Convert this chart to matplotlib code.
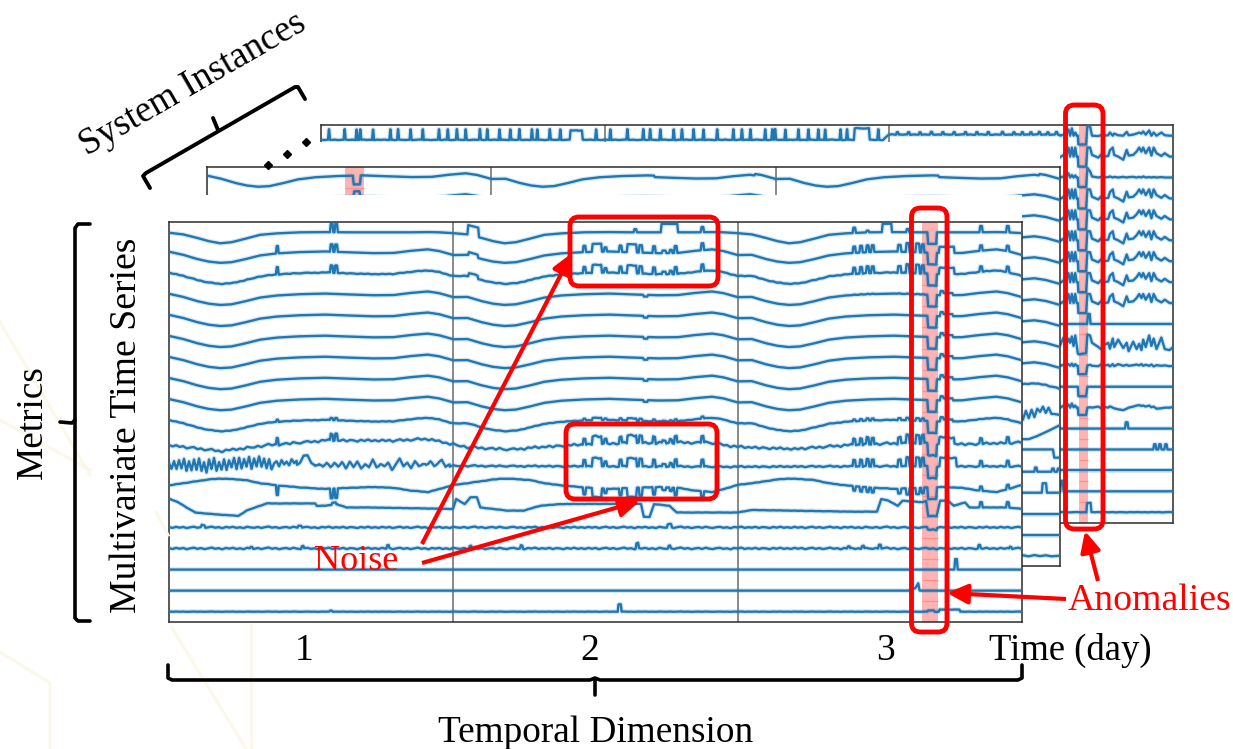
import numpy as np
import matplotlib
matplotlib.use("Agg")
import matplotlib.pyplot as plt
from matplotlib.patches import FancyBboxPatch, FancyArrowPatch, Rectangle

W, H = 1233, 749
BLUE = "#1f77b4"
RED = "#ff0000"
plt.rcParams["font.family"] = ["Liberation Serif", "DejaVu Serif"]

# ---------- one-day envelope of the metrics (row heights above the nominal level)
DAY_T = [0, .05, .10, .14, .18, .22, .27, .32, .38, .46, .55, .63, .72, .79, .85, .91, .95, 1.0]
DAY_V = [.10, -.05, -.25, -.37, -.43, -.40, -.25, -.08, .02, .08, .11, .07, .03, .04, .14, .21, .13, -.06]
TOP_V = [.0, -.08, -.25, -.40, -.50, -.45, -.28, -.10, -.03, .02, .03, .02, .02, .02, .02, .03, .02, -.02]
INV_V = [.0, .10, .20, .28, .32, .30, .25, .10, .0, -.10, -.17, -.12, -.08, -.12, -.25, -.32, -.18, .02]

# ---------- front panel events: (time, height, width)
SPIKE_DAY1 = [(.381, .35, .004), (.572, .35, .006), (.588, .35, .006)]
BURST_DAY2 = [(1.461, .30, .006), (1.505, .38, .030), (1.535, .20, .006), (1.588, .30, .006),
              (1.628, .38, .030), (1.659, .35, .008), (1.706, .32, .006), (1.741, .12, .010),
              (1.765, .15, .006), (1.782, .33, .006), (1.876, .33, .006)]
BURST_DAY3 = [(2.410, .30, .006), (2.434, .32, .006), (2.457, .32, .006), (2.475, .32, .006),
              (2.569, .32, .008), (2.598, .42, .008), (2.633, .42, .010), (2.651, .38, .006)]
LATE_SPIKES = [(2.856, .25, .006), (2.950, .25, .006)]
NOTCH = [(2.684, -.55, .028)]
HUMP_BIG = [(2.735, .30, .050)]
HUMP_SMALL = [(2.718, .20, .008), (2.740, .10, .030)]
STEP_DAY2 = [(1.676, -.08, .012)]
TOP_EVENTS = [(.572, .40, .006), (.588, .40, .006), (1.07, .45, .035), (1.64, .15, .006),
              (1.76, .40, .055), (1.876, .25, .006), (2.41, .25, .006), (2.457, .08, .006),
              (2.525, .40, .030), (2.598, .15, .006), (2.856, .30, .006), (2.950, .30, .006)]

# ---------- front panel: rows with their own level history
ROW10_T = [0, .18, .35, .55, .79, .91, 1.05, 1.2, 1.4, 1.6, 1.9, 2.0, 2.2, 2.4, 2.6, 2.8, 3.0]
ROW10_V = [-.10, -.38, -.10, .13, .12, .20, -.20, -.30, -.10, .0, .03, -.18, -.28, -.08, .0, -.05, .03]
ROW11_T = [0, .5, 1.0, 1.5, 2.0, 2.4, 2.7, 3.0]
ROW11_V = [.0, -.02, -.08, -.10, -.12, -.10, -.10, -.10]
ROW13_T = [0, .004, .033, .062, .092, .156, .244, .273, .303, .344, .514, .52, .549, .59, .625, .696, .999,
           1.01, 1.04, 1.06, 1.083, 1.095, 1.19, 1.247, 1.306, 1.376, 1.50, 1.66, 1.67, 1.69, 1.706, 1.76,
           1.786, 1.87, 2.0, 2.05, 2.40, 2.49, 2.505, 2.53, 2.563, 2.58, 2.65, 2.663, 2.67, 2.70, 2.712,
           2.74, 2.76, 2.80, 2.815, 2.95, 3.0]
ROW13_V = [.35, .35, .19, -.05, -.29, -.37, -.45, -.2, -.05, .14, .14, .03, .03, .1, -.05, -.05, -.12,
           .35, .11, .43, .43, -.05, -.2, -.2, .03, .11, .12, .12, -.5, -.5, .11, .03,
           -.29, -.29, -.29, -.17, -.25, -.25, .35, .27, .03, .27, .2, .25, -.45, -.45, .27,
           .27, .03, .19, -.05, -.05, -.12]
ROW15_SPIKES = [(.29, .08, .005), (.47, .12, .005), (.77, .15, .005), (1.06, .12, .005), (1.24, .15, .005),
                (1.647, .25, .006), (1.76, .12, .005), (2.39, .1, .005), (2.44, .14, .006), (2.50, .2, .006),
                (2.85, .15, .005), (2.96, .1, .005)]
ROW14_SPIKES = [(.12, .12, .01), (.46, .1, .01), (1.76, .15, .012)]
ROW16_SPIKES = [(2.768, .50, .006)]
ROW17_T = [0, 2.60, 2.625, 2.635, 2.64, 3.0]
ROW17_V = [0, 0, .12, .35, .0, .0]
ROW18_SPIKES = [(.57, .05, .006), (1.585, .35, .008), (2.745, .10, .07), (2.68, .06, .02)]

# ---------- typed fine noise
NOISE_A = [.03, -.04, .06, -.02, .05, -.06, .02, .07, -.03, .04, -.05, .01, .08, -.02, .03, -.07, .05, -.01, .06, -.04,
           .02, -.06, .07, .0, -.03, .05, -.05, .03, .09, -.02, .04, -.06, .01, .05, -.04, .07, -.01, -.05, .03, .06,
           -.03, .02, -.07, .05, .0, .08, -.04, .03, -.02, .06, -.05, .04, .01, -.06, .05, -.02, .07, -.03]
HEAVY_V = [.05, -.2, .15, -.25, .2, -.2, .25, -.28, .15, -.3, .2, -.25, .28, -.32, .12, -.38, .22, -.25, .3, -.3,
           .1, -.22, .25, -.28, .2, -.15, .3, -.2, .32, -.18, .28, -.12, .35, -.2, .3, -.1, .38, -.08, .28, -.2,
           .22, -.22, .05, .15, -.05, .22, .0, .12, -.02, .25, .05, .18]
HEAVY_STEP = .0088
MEDIUM_V = [.1, .42, .42, .1, -.05, .05, -.1, .08, -.12, .1, -.08, .12, -.15, .15, -.1, .2, -.18, .05, -.12, .28,
            -.1, .05, -.05, .12, -.2, .05, .3, -.02, .12, -.1, .2, -.05, .08, .05, .22, -.02, .1, .3, -.05, .1]
MEDIUM_STEP = .0135

# ---------- right strip of the back panel
STRIP_T = [2.603, 2.615, 2.621, 2.632, 2.638, 2.644, 2.65, 2.656, 2.661, 2.665, 2.667, 2.694, 2.699, 2.708, 2.715,
           2.737, 2.746, 2.757, 2.772, 2.778, 2.788, 2.793, 2.807, 2.825, 2.837, 2.844, 2.86, 2.872, 2.881, 2.889,
           2.895, 2.904, 2.916, 2.924, 2.932, 2.942, 2.959, 2.971, 2.988, 3.0]
STRIP_V = [-.03, .08, -.03, .43, .0, .43, .0, .43, .0, .0, -.48, -.48, .43, .43, .08, -.05, .08, .0, .03, .3, .43, .08,
           .0, -.15, .32, .05, .08, .24, .43, .24, .43, .16, .43, .05, .43, .16, .03, .16, .0, .0]
STRIP_HEAVY_V = [.0, .35, -.1, .3, .1, .4, -.05, .45, .0, -.4, -.45, -.4, .5, .45, .1, -.1, -.2, -.02, .1, -.18,
                 .3, -.1, .25, -.15, .1, -.3, .15, -.2, .05, -.25, .25, -.1, .45, -.05, .3, -.2, .35, -.2, -.25, -.1]
STRIP_SMALL_V = [.0, .05, -.03, .08, .0, .1, -.02, .08, .0, .0, -.4, -.4, .02, .05, .0, -.02, .06, .0, .05, -.03, .08,
                 -.02, .08, .0, .05, .0, .03, .06, .02, .08, .0, .05, .0, .06, -.03, .03, .0, .02, -.02, .0]
STRIP_FLAT_NOTCH_V = [.0] * 10 + [-.45, -.45, .0, .0] + [.0] * 26
STRIP_LOW_NOTCH_V = [.0, .1, -.02, .15, .0, .2, .02, .1, .0, .0, -.35, -.35, .0, .02, .0, .05, -.02, .04, .0, .06, .0,
                     -.03, -.08, -.12, -.05, .0, .05, .1, .12, .08, .1, .05, .1, .02, .05, -.05, -.03, .0, .0, .03]
STRIP_TOP_V = [.0, .05, .0, .3, .0, .35, .0, .15, .0, .0, -.42, -.42, .45, .45, .0, -.02, .02, .0, .02, .15, .0, .1, .02,
               .0, .18, .02, .05, .1, .15, .1, .2, .05, .25, .0, .15, .0, .15, .02, .0, .0]
STRIP_QUIET_V = [.0, .05, -.02, .2, .0, .12, .0, .1, .0, .0, -.45, -.45, .45, .3, .05, .0, .02, .0, .02, .05, .0, .03,
                 .0, .03, .0, .02, .03, .0, .03, .0, .05, .0, .02, .0, .02, .0, .02, .0, .0, .0]
STRIP_ROW9_EVENTS = [(2.704, .48, .006)]
STRIP_ROW14_EVENTS = [(2.837, .30, .006)]
STRIP_ROW15_EVENTS = [(2.936, .25, .005), (2.954, .25, .005), (2.975, .25, .005)]
STRIP_ROW17_EVENTS = [(2.609, .50, .006)]
STRIP_ROW18_EVENTS = [(2.704, .45, .012)]
BACK_ROW0_DAY1 = [.03, .085, .127, .14, .185, .246, .273, .317, .36, .417, .448, .48, .511, .561, .587, .63, .668, .7,
                  .744, .763, .807, .844, .97]
BACK_ROW0_DAY2 = [1.02, 1.08, 1.136, 1.16, 1.196, 1.243, 1.272, 1.313, 1.348, 1.396, 1.453, 1.483, 1.513, 1.565, 1.59,
                  1.60, 1.636, 1.682, 1.717, 1.752, 1.776, 1.83, 1.853, 1.963]
BACK_ROW0_DAY3 = [2.03, 2.07, 2.11, 2.15, 2.19, 2.23, 2.27, 2.31, 2.35, 2.40, 2.44, 2.47, 2.50, 2.53, 2.56, 2.59]
BACK_ROW0_HUMPS = [(.90, .45, .04), (1.905, .55, .05)]

# ---------- middle panel
MID_ROW0_EVENTS = [(.527, -.42, .022), (1.75, -.07, .35), (2.75, -.07, .35)]
MID_ROW1_EVENTS = [(.527, .25, .018)]
MID_ROW11_T = [2.87, 2.88, 2.89, 2.90, 2.91, 2.92, 2.93, 2.94, 2.95, 2.96, 2.97, 2.98, 3.0]
MID_ROW11_V = [-.5, -.1, -.45, -.05, -.4, .0, -.15, .1, -.2, .05, -.25, -.25, -.3]
MID_ROW12_T = [2.87, 2.89, 2.92, 2.96, 3.0]
MID_ROW12_V = [-.45, -.45, -.3, -.05, .22]
MID_ROW13_T = [2.87, 2.955, 2.96, 2.975, 2.98, 3.0]
MID_ROW13_V = [.06, .06, .06, .06, -.33, -.33]
MID_ROW14_EVENTS = [(2.915, .2, .005), (2.975, .15, .005), (2.995, .15, .005)]
MID_ROW15_EVENTS = [(2.945, .45, .012)]
MID_ROW18_T = [2.87, 2.89, 2.91, 2.93, 2.95, 2.97, 3.0]
MID_ROW18_V = [.02, -.03, .03, -.02, .02, -.03, .0]

DAY_LINES = [1, 2]
FRONT_BAND = (2.648, 2.706)
MIDDLE_BAND = (.485, .552)
BACK_BAND = (2.670, 2.700)
TICK_LABELS = ["1", "2", "3"]


def three_days(values):
    t = list(DAY_T) + [d + x for d in (1, 2) for x in DAY_T[1:]]
    v = list(values) + list(values[1:]) + list(values[1:])
    return np.array(t), np.array(v)


def compose(bt, bv, events=(), extras=(), noise=0.0):
    """Join the level history, the events and the typed noise on their own knots."""
    knots = [np.asarray(bt, float)]
    for t0, _, w in events:
        knots.append(np.array([t0 - w / 2 - .003, t0 - w / 2, t0 + w / 2, t0 + w / 2 + .003]))
    for xt, _ in extras:
        knots.append(np.asarray(xt, float))
    if noise:
        noise_t = np.arange(0, 3.001, .0125)
        knots.append(noise_t)
    t = np.unique(np.concatenate(knots))
    t = t[(t >= bt[0]) & (t <= bt[-1])]
    v = np.interp(t, bt, bv)
    for t0, h, w in events:
        v = v + np.interp(t, [t0 - w / 2 - .003, t0 - w / 2, t0 + w / 2, t0 + w / 2 + .003], [0, h, h, 0])
    for xt, xv in extras:
        v = v + np.interp(t, xt, xv, left=0, right=0)
    if noise:
        v = v + noise * np.interp(t, noise_t, np.resize(NOISE_A, noise_t.size))
    return t, v


def scaled(events, k):
    return [(t, h * k, w) for t, h, w in events]


def flipped(events, k):
    return [(t, -abs(h) * k, w) for t, h, w in events]


day_t, day_v = three_days(DAY_V)
top_t, top_v = three_days(TOP_V)
inv_t, inv_v = three_days(INV_V)
heavy_t = HEAVY_STEP * np.arange(len(HEAVY_V))
medium_t = .46 + MEDIUM_STEP * np.arange(len(MEDIUM_V))
flat_t, flat_v = [0, 3], [0, 0]
COMMON = BURST_DAY2 + BURST_DAY3 + LATE_SPIKES

front_rows = [
    compose(top_t, top_v, TOP_EVENTS + NOTCH),
    compose(day_t, day_v, SPIKE_DAY1 + [(1.07, .15, .03)] + COMMON + NOTCH + HUMP_BIG),
    compose(day_t, day_v, SPIKE_DAY1 + [(1.07, .15, .03)] + COMMON + NOTCH + HUMP_BIG, noise=.25),
    compose(day_t, day_v, STEP_DAY2 + scaled(BURST_DAY3, .05) + NOTCH + HUMP_SMALL),
    compose(day_t, day_v, STEP_DAY2 + NOTCH + HUMP_SMALL),
    compose(day_t, day_v, STEP_DAY2 + NOTCH + HUMP_SMALL),
    compose(day_t, day_v, STEP_DAY2 + NOTCH + HUMP_SMALL),
    compose(day_t, day_v, STEP_DAY2 + NOTCH + HUMP_SMALL),
    compose(day_t, day_v, STEP_DAY2 + NOTCH + HUMP_SMALL),
    compose(day_t, day_v, scaled(SPIKE_DAY1, .3) + scaled(BURST_DAY2, .3) + scaled(BURST_DAY3, .3)
            + NOTCH + HUMP_SMALL, noise=.2),
    compose(ROW10_T, ROW10_V, scaled(SPIKE_DAY1, .9) + COMMON + NOTCH + HUMP_BIG, noise=.8),
    compose(ROW11_T, ROW11_V, scaled(BURST_DAY2, 1.05) + scaled(BURST_DAY3, 1.05) + LATE_SPIKES
            + NOTCH + [(2.74, .4, .055)],
            extras=[(heavy_t, HEAVY_V), (medium_t, MEDIUM_V)], noise=.5),
    compose(inv_t, inv_v, flipped(SPIKE_DAY1, 1.3) + flipped(BURST_DAY2, 1.1) + flipped(BURST_DAY3, .7)
            + [(2.684, -.55, .028), (2.856, .2, .006), (2.95, .2, .006)], noise=.15),
    compose(ROW13_T, ROW13_V, [(2.856, .25, .006), (2.95, .25, .006), (.58, -.5, .012), (.58, .6, .012)], noise=.1),
    compose(flat_t, flat_v, ROW14_SPIKES + [(2.684, -.1, .03)], noise=.5),
    compose(flat_t, flat_v, ROW15_SPIKES, noise=.55),
    compose(flat_t, flat_v, ROW16_SPIKES),
    compose(ROW17_T, ROW17_V),
    compose(flat_t, flat_v, ROW18_SPIKES, noise=.1),
]

back_top_events = ([(t, .5, .001) for t in BACK_ROW0_DAY1 + BACK_ROW0_DAY2]
                   + [(t, .12, .004) for t in BACK_ROW0_DAY3] + BACK_ROW0_HUMPS)
back_top_t = [0, .5, 1, 1.98, 2.0, 2.6]
back_top_v = [-.2, -.2, -.2, -.2, .05, .05]
_top_t, _top_v = compose(back_top_t, back_top_v, back_top_events, noise=.2)
_strip0_t, _strip0_v = compose(STRIP_T, STRIP_TOP_V)
back_rows = [
    (np.concatenate([_top_t, _strip0_t]), np.concatenate([_top_v, _strip0_v])),
    compose(STRIP_T, STRIP_V),
    compose(STRIP_T, STRIP_QUIET_V),
    compose(STRIP_T, STRIP_V),
    compose(STRIP_T, STRIP_V),
    compose(STRIP_T, STRIP_V),
    compose(STRIP_T, STRIP_V),
    compose(STRIP_T, STRIP_V),
    compose(STRIP_T, STRIP_V),
    compose([2.603, 3.0], [0, 0], STRIP_ROW9_EVENTS),
    compose(STRIP_T, STRIP_HEAVY_V),
    compose(STRIP_T, STRIP_SMALL_V),
    compose(STRIP_T, STRIP_FLAT_NOTCH_V),
    compose(STRIP_T, STRIP_LOW_NOTCH_V),
    compose([2.603, 3.0], [0, 0], STRIP_ROW14_EVENTS),
    compose([2.603, 3.0], [0, 0], STRIP_ROW15_EVENTS),
    compose([2.603, 3.0], [0, 0]),
    compose([2.603, 3.0], [0, 0], STRIP_ROW17_EVENTS),
    compose([2.603, 3.0], [0, 0], STRIP_ROW18_EVENTS, noise=.15),
]

mid_rows = [compose(day_t, day_v, MID_ROW0_EVENTS), compose(day_t, day_v, MID_ROW1_EVENTS)]
for _ in range(2, 10):
    mid_rows.append(compose(day_t, day_v))
mid_rows.append(compose(day_t, day_v, noise=.3))
mid_rows.append(compose(MID_ROW11_T, MID_ROW11_V))
mid_rows.append(compose(MID_ROW12_T, MID_ROW12_V))
mid_rows.append(compose(MID_ROW13_T, MID_ROW13_V))
mid_rows.append(compose([2.87, 3.0], [0, 0], MID_ROW14_EVENTS))
mid_rows.append(compose([2.87, 3.0], [0, 0], MID_ROW15_EVENTS))
mid_rows.append(compose([2.87, 3.0], [.0, .0]))
mid_rows.append(compose([2.87, 3.0], [.0, .0]))
mid_rows.append(compose(MID_ROW18_T, MID_ROW18_V))

fig = plt.figure(figsize=(W / 100, H / 100), dpi=100, facecolor="white")


def panel(x0, y0, x1, y1, z, rows, band):
    ax = fig.add_axes([x0 / W, 1 - y1 / H, (x1 - x0) / W, (y1 - y0) / H], zorder=z, facecolor="white")
    ax.set_xlim(0, 3)
    ax.set_ylim(18.49, -.51)
    ax.set_xticks([])
    ax.set_yticks([])
    for s in ax.spines.values():
        s.set_color("#2b2b2b")
        s.set_linewidth(1.1)
    for d in DAY_LINES:
        ax.axvline(d, color="#808080", lw=1.3, zorder=1)
    ax.axvspan(*band, color="#ffb3b3", lw=0, zorder=1.5)
    ax.hlines(np.arange(19) + .5, band[0], band[1], color="#ff8e8e", lw=.9, zorder=1.6)
    for i, (t, v) in enumerate(rows):
        ax.plot(t, i - v, color=BLUE, lw=3.4, alpha=.18, zorder=2, solid_joinstyle="round")
        ax.plot(t, i - v, color=BLUE, lw=1.7, zorder=3, solid_joinstyle="round")
    return ax


def cover(x0, y0, x1, y1, z):
    fig.add_artist(Rectangle((x0 / W, 1 - y1 / H), (x1 - x0) / W, (y1 - y0) / H, transform=fig.transFigure,
                             facecolor="white", edgecolor="none", zorder=z))


panel(320.5, 125, 1173, 522.5, 1, back_rows, BACK_BAND)
cover(300, 141.5, 1060, 530, 1.5)
panel(207, 167, 1060, 566, 2, mid_rows, MIDDLE_BAND)
cover(195, 194.5, 1022, 640, 2.5)
panel(169, 222, 1022, 622, 3, front_rows, FRONT_BAND)

ov = fig.add_axes([0, 0, 1, 1], zorder=10, facecolor="none")
ov.set_xlim(0, W)
ov.set_ylim(H, 0)
ov.axis("off")

# faint watermark strokes
for pts in [[(0, 322), (90, 475)], [(0, 420), (90, 470)], [(0, 652), (50, 683), (50, 749)],
            [(156, 512), (168, 535)], [(172, 628), (246, 749)], [(251, 625), (251, 749)]]:
    ov.plot(*zip(*pts), color="#fcf8e9", lw=2.2, zorder=0)

# braces
BLK = dict(color="black", solid_capstyle="round", solid_joinstyle="round")
ov.plot([90, 78, 75, 75, 78, 90], [224, 224, 228, 618, 621, 621], lw=2.6, **BLK)
ov.plot([60, 72, 75], [422, 423, 420], lw=2.6, **BLK)
ov.plot([168, 168, 172, 590, 595, 600, 1018, 1022, 1022], [665, 678, 680, 680, 678, 680, 680, 678, 665], lw=2.6, **BLK)
ov.plot([595, 595], [680, 695], lw=2.6, **BLK)
ov.plot([150, 143, 146, 295, 298, 305], [188, 176, 173, 87, 87, 99], lw=2.8, **BLK)
ov.plot([218, 213], [130, 118], lw=2.8, **BLK)
for x, y in [(268, 165), (287, 154), (306, 142)]:
    ov.plot([x], [y], marker="D", ms=4.5, color="black")

# red frames
for x0, y0, x1, y1 in [(570, 217, 718, 286), (566, 424, 717, 499), (911.5, 208, 947, 632), (1065.5, 105, 1103, 529)]:
    ov.add_patch(FancyBboxPatch((x0, y0), x1 - x0, y1 - y0, boxstyle="round,pad=0,rounding_size=9",
                                fc="none", ec=RED, lw=3.5))

# arrows
for a, b in [((422, 544), (572, 253)), ((422, 563), (640, 501)), ((1066, 599), (947, 593)), ((1098, 581), (1085, 531))]:
    ov.add_patch(FancyArrowPatch(a, b, arrowstyle="-|>,head_length=.62,head_width=.3", mutation_scale=20,
                                 color=RED, lw=3.0, shrinkA=0, shrinkB=0, capstyle="butt"))

# texts
txt = dict(ha="center", va="center", color="black")
ov.text(356, 562, "Noise", fontsize=26, ha="center", va="center", color=RED)
ov.text(1149, 601, "Anomalies", fontsize=27.2, ha="center", va="center", color=RED)
for x, s in zip((304, 590, 885), TICK_LABELS):
    ov.text(x, 651, s, fontsize=27, **txt)
ov.text(1070, 650, "Time (day)", fontsize=26.4, **txt)
ov.text(596, 733, "Temporal Dimension", fontsize=26.8, **txt)
ov.text(33, 422, "Metrics", fontsize=26.8, rotation=90, **txt)
ov.text(127, 425, "Multivariate Time Series", fontsize=27.2, rotation=90, **txt)
ov.text(193, 84, "System Instances", fontsize=26.6, rotation=30, rotation_mode="anchor", **txt)

fig.savefig("out.png", dpi=100)
